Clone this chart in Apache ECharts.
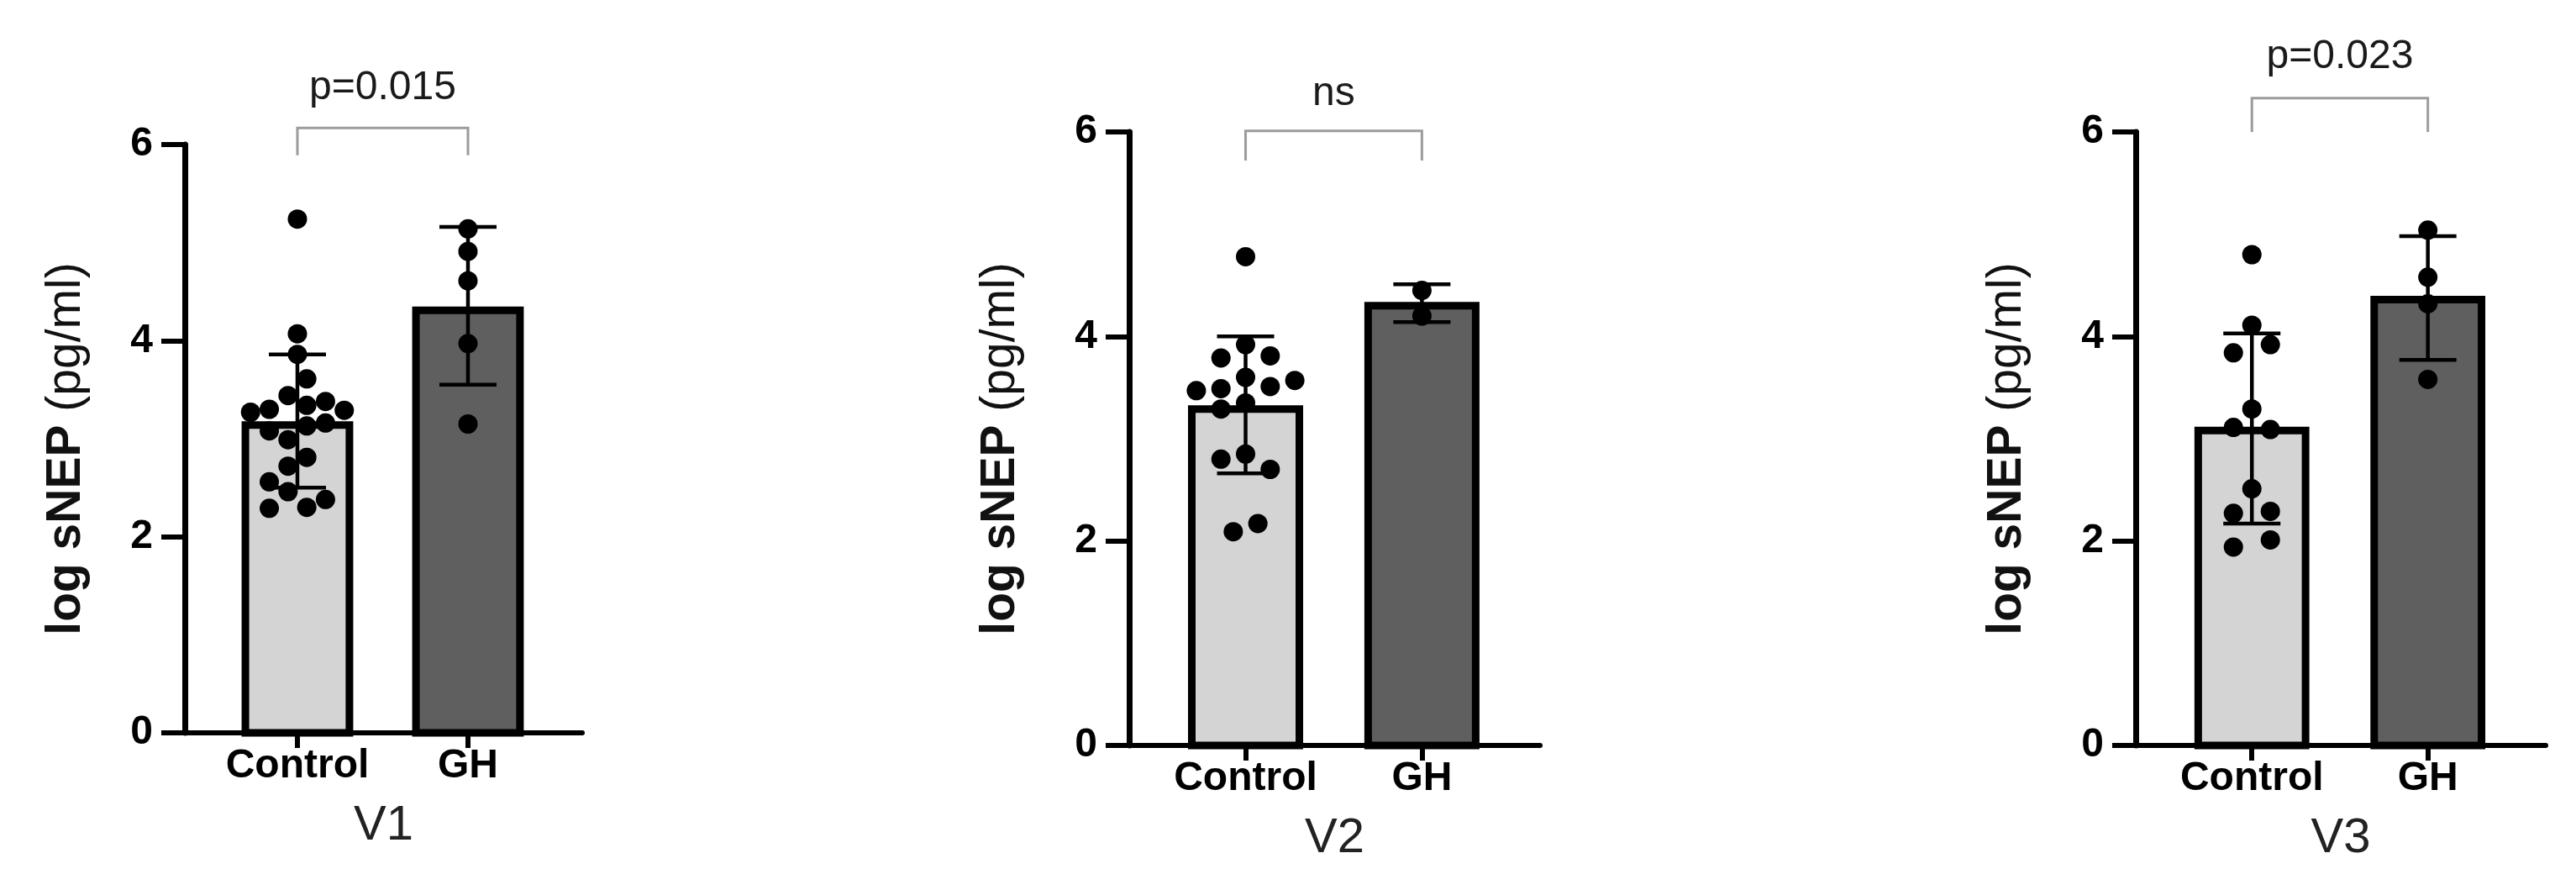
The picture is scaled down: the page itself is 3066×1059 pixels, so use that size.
<!DOCTYPE html>
<html>
<head>
<meta charset="utf-8">
<script src="https://cdn.jsdelivr.net/npm/echarts@6.0.0/dist/echarts.min.js"></script>
<style>
html, body { margin: 0; padding: 0; background: #fff; }
#main { width: 3066px; height: 1059px; }
</style>
</head>
<body>
<div id="main"></div>
<script>
var groups = ['Control', 'GH'];
var visits = ['V1', 'V2', 'V3'];
var sigLabels = ['p=0.015', 'ns', 'p=0.023'];

// bar height and error bar ends, [Control, GH]
var meanV1 = [3.14, 4.31];
var lowV1 = [2.50, 3.55];
var highV1 = [3.86, 5.16];
var meanV2 = [3.29, 4.30];
var lowV2 = [2.66, 4.14];
var highV2 = [4.00, 4.51];
var meanV3 = [3.08, 4.36];
var lowV3 = [2.17, 3.77];
var highV3 = [4.03, 4.98];

// single values
var ctlV1 = [5.24, 4.07, 3.86, 3.61, 3.44, 3.34, 3.38, 3.27, 3.30, 3.29, 3.08, 3.13, 3.16, 2.99, 2.81, 2.72, 2.56, 2.46, 2.38, 2.29, 2.30];
var ghV1 = [5.14, 4.91, 4.61, 3.97, 3.15];
var ctlV2 = [4.78, 3.92, 3.79, 3.81, 3.60, 3.57, 3.47, 3.49, 3.51, 3.29, 3.35, 2.80, 2.85, 2.70, 2.09, 2.17];
var ghV2 = [4.45, 4.20];
var ctlV3 = [4.80, 4.11, 3.84, 3.92, 3.29, 3.11, 3.09, 2.51, 2.27, 2.29, 1.94, 2.01];
var ghV3 = [5.04, 4.58, 4.32, 3.58];

// swarm column of each control dot (0 = middle of the bar), GH dots all sit in the middle
var ctlColV1 = [0, 0, 0, 0.5, -0.5, 0.5, 1.5, -2.5, -1.5, 2.5, -1.5, 0.5, 1.5, -0.5, 0.5, -0.5, -1.5, -0.5, 1.5, -1.5, 0.5];
var ctlColV2 = [0, 0, -1, 1, 0, 2, -2, -1, 1, -1, 0, -1, 0, 1, -0.5, 0.5];
var ctlColV3 = [0, 0, -1, 1, 0, -1, 1, 0, -1, 1, -1, 1];

var FONT = '"Liberation Sans", Arial, sans-serif';
var barFills = ['#d4d4d4', '#5f5f5f'];

var panels = [
    {mean: meanV1, low: lowV1, high: highV1, ctl: ctlV1, gh: ghV1, col: ctlColV1,
     grid: {left: 220, top: 172, width: 473, height: 700}, step: 22.3, nameGap: 112,
     bracket: [6.17, 5.89], textY: 6.58},
    {mean: meanV2, low: lowV2, high: highV2, ctl: ctlV2, gh: ghV2, col: ctlColV2,
     grid: {left: 1344, top: 157, width: 489, height: 730}, step: 29.3, nameGap: 124,
     bracket: [6.01, 5.72], textY: 6.37},
    {mean: meanV3, low: lowV3, high: highV3, ctl: ctlV3, gh: ghV3, col: ctlColV3,
     grid: {left: 2542, top: 157, width: 488, height: 730}, step: 22, nameGap: 124,
     bracket: [6.33, 6.0], textY: 6.73}
];

function renderBar(params, api){
    var g = api.value(0);
    var top = api.coord([g, api.value(1)]);
    var base = api.coord([g, 0]);
    var w = api.size([1, 0])[0] * 0.61;
    return {
        type: 'rect',
        shape: {x: top[0] - w / 2, y: top[1], width: w, height: base[1] - top[1]},
        style: {fill: barFills[g], stroke: '#000', lineWidth: 9}
    };
}

function renderErr(params, api){
    var g = api.value(0);
    var lo = api.coord([g, api.value(1)]);
    var hi = api.coord([g, api.value(2)]);
    var cap = 34;
    var st = {stroke: '#000', lineWidth: 4.5};
    return {
        type: 'group',
        children: [
            {type: 'line', shape: {x1: lo[0], y1: lo[1], x2: hi[0], y2: hi[1]}, style: st},
            {type: 'line', shape: {x1: hi[0] - cap, y1: hi[1], x2: hi[0] + cap, y2: hi[1]}, style: st},
            {type: 'line', shape: {x1: lo[0] - cap, y1: lo[1], x2: lo[0] + cap, y2: lo[1]}, style: st}
        ]
    };
}

function makeBracket(label){
    return function(params, api){
        var a = api.coord([api.value(0), api.value(2)]);
        var b = api.coord([api.value(1), api.value(2)]);
        var endY = api.coord([0, api.value(3)])[1];
        var t = api.coord([(api.value(0) + api.value(1)) / 2, api.value(4)]);
        return {
            type: 'group',
            children: [
                {type: 'polyline',
                 shape: {points: [[a[0], endY], [a[0], a[1]], [b[0], b[1]], [b[0], endY]]},
                 style: {stroke: '#9c9c9c', lineWidth: 3, fill: null}},
                {type: 'text', x: t[0], y: t[1],
                 style: {text: label, font: '48px ' + FONT, fill: '#1a1a1a', align: 'center', verticalAlign: 'middle'}}
            ]
        };
    };
}

var grids = [], xAxes = [], yAxes = [], series = [];

panels.forEach(function(p, i){
    grids.push(p.grid);
    xAxes.push({
        gridIndex: i,
        type: 'value',
        min: -0.66,
        max: 1.67,
        splitLine: {show: false},
        axisLine: {show: true, onZero: false, lineStyle: {color: '#000', width: 6}},
        axisTick: {show: true, customValues: [0, 1], length: 18, lineStyle: {color: '#000', width: 6}},
        axisLabel: {
            customValues: [0, 1],
            formatter: function(v){ return groups[Math.round(v)]; },
            color: '#000', fontWeight: 'bold', fontSize: 48, fontFamily: FONT, margin: 16
        },
        name: visits[i],
        nameLocation: 'middle',
        nameGap: 82,
        nameTextStyle: {fontSize: 58, fontFamily: FONT, color: '#222'}
    });
    yAxes.push({
        gridIndex: i,
        type: 'value',
        min: 0,
        max: 6,
        interval: 2,
        splitLine: {show: false},
        axisLine: {show: true, onZero: false, lineStyle: {color: '#000', width: 7}},
        axisTick: {show: true, length: 28, lineStyle: {color: '#000', width: 6}},
        axisLabel: {color: '#000', fontWeight: 'bold', fontSize: 48, fontFamily: FONT, margin: 38},
        name: '{b|log sNEP} (pg/ml)',
        nameLocation: 'middle',
        nameRotate: 90,
        nameGap: p.nameGap,
        nameTextStyle: {
            fontSize: 57, fontFamily: FONT, color: '#111', padding: [0, 24, 0, 0],
            rich: {b: {fontSize: 57, fontFamily: FONT, fontWeight: 'bold', color: '#111'}}
        }
    });

    series.push({
        type: 'custom',
        xAxisIndex: i, yAxisIndex: i,
        renderItem: renderBar,
        z: 1,
        data: [[0, p.mean[0]], [1, p.mean[1]]]
    });

    var dots = [];
    p.ctl.forEach(function(v, k){
        dots.push({value: [0, v], symbolOffset: [p.col[k] * p.step, 0]});
    });
    p.gh.forEach(function(v){
        dots.push({value: [1, v]});
    });
    series.push({
        type: 'scatter',
        xAxisIndex: i, yAxisIndex: i,
        symbol: 'circle',
        symbolSize: 23,
        itemStyle: {color: '#000', opacity: 1},
        z: 3,
        data: dots
    });

    series.push({
        type: 'custom',
        xAxisIndex: i, yAxisIndex: i,
        renderItem: renderErr,
        z: 4,
        data: [[0, p.low[0], p.high[0]], [1, p.low[1], p.high[1]]]
    });

    series.push({
        type: 'custom',
        xAxisIndex: i, yAxisIndex: i,
        renderItem: makeBracket(sigLabels[i]),
        z: 5,
        data: [[0, 1, p.bracket[0], p.bracket[1], p.textY]]
    });
});

var myChart = echarts.init(document.getElementById('main'));
myChart.setOption({
    backgroundColor: '#fff',
    animation: false,
    grid: grids,
    xAxis: xAxes,
    yAxis: yAxes,
    series: series
});
</script>
</body>
</html>
